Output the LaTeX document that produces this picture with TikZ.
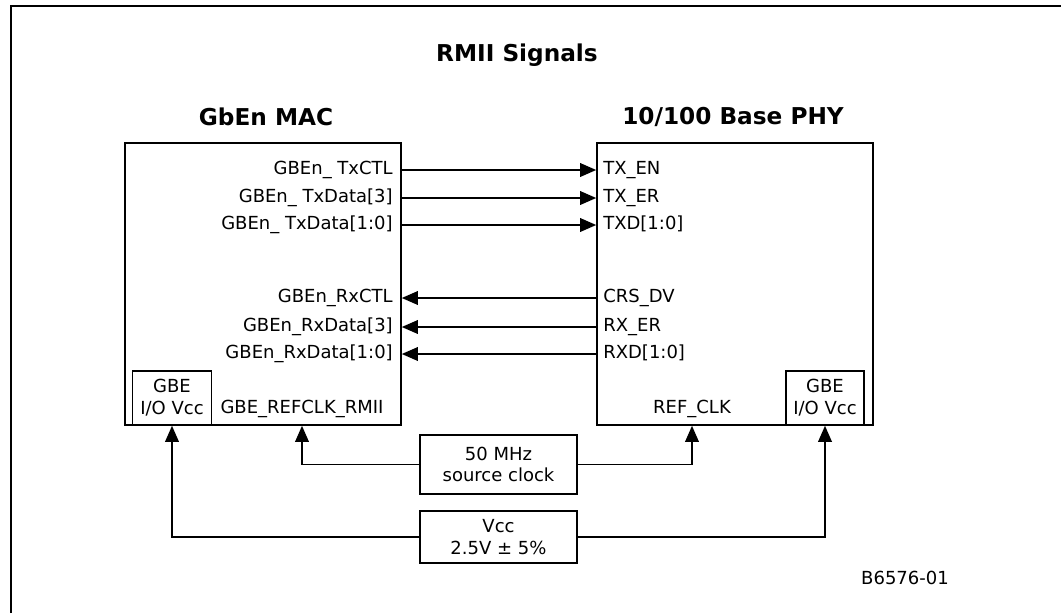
\documentclass[tikz,border=0pt]{standalone}
\usepackage{fontspec}
\setmainfont{DejaVu Sans}
\usetikzlibrary{arrows.meta}

\tikzset{
  blk/.style={draw, line width=1.1pt, inner sep=0pt},
  sig/.style={line width=1.1pt, -{Triangle[length=4mm,width=3.4mm]}},
  lbl/.style={font=\fontsize{12.8}{15.5}\selectfont, inner sep=0pt, text height=9pt, text depth=3pt},
  ttl/.style={font=\fontsize{16.5}{19}\selectfont\bfseries, inner sep=0pt},
}

\begin{document}
\begin{tikzpicture}[x=0.025cm, y=-0.025cm]

    \useasboundingbox (0,0) rectangle (1061,613);

    % frame
    \draw[line width=1.5pt] (11,613) -- (11,6) -- (1061,6);

    % titles
    \node[ttl] (title) at (517,55) {RMII Signals};
    \node[ttl] (mactitle) at (266,117) {GbEn MAC};
    \node[ttl] (phytitle) at (733,117) {10/100 Base PHY};

    % blocks
    \node[blk, minimum width=6.9cm, minimum height=7.05cm] (mac) at (263,284) {};
    \node[blk, minimum width=6.9cm, minimum height=7.05cm] (phy) at (735,284) {};
    \node[blk, lbl, text height=, text depth=, align=center, minimum width=1.975cm, minimum height=1.35cm] (macvcc) at (172,398) {GBE\\I/O Vcc};
    \node[blk, lbl, text height=, text depth=, align=center, minimum width=1.95cm, minimum height=1.35cm] (phyvcc) at (825,398) {GBE\\I/O Vcc};
    \node[blk, lbl, text height=, text depth=, align=center, minimum width=3.925cm, minimum height=1.475cm] (clk) at (498.5,464.5) {50 MHz\\source clock};
    \node[blk, lbl, text height=, text depth=, align=center, minimum width=3.925cm, minimum height=1.3cm] (vcc) at (498.5,537) {Vcc\\2.5V ± 5\%};

    % MAC pins
    \node[lbl, anchor=east] (mtx1) at (393,170) {GBEn\_ TxCTL};
    \node[lbl, anchor=east] (mtx2) at (393,198) {GBEn\_ TxData[3]};
    \node[lbl, anchor=east] (mtx3) at (393,225) {GBEn\_ TxData[1:0]};
    \node[lbl, anchor=east] (mrx1) at (393,298) {GBEn\_RxCTL};
    \node[lbl, anchor=east] (mrx2) at (393,327) {GBEn\_RxData[3]};
    \node[lbl, anchor=east] (mrx3) at (393,354) {GBEn\_RxData[1:0]};
    \node[lbl] (macclk) at (302,409) {GBE\_REFCLK\_RMII};

    % PHY pins
    \node[lbl, anchor=west] (ptx1) at (603,170) {TX\_EN};
    \node[lbl, anchor=west] (ptx2) at (603,198) {TX\_ER};
    \node[lbl, anchor=west] (ptx3) at (603,225) {TXD[1:0]};
    \node[lbl, anchor=west] (prx1) at (603,298) {CRS\_DV};
    \node[lbl, anchor=west] (prx2) at (603,327) {RX\_ER};
    \node[lbl, anchor=west] (prx3) at (603,354) {RXD[1:0]};
    \node[lbl] (phyclk) at (692,409) {REF\_CLK};

    % transmit
    \foreach \i in {1,2,3}
        \draw[sig] (mac.east |- mtx\i) -- (phy.west |- ptx\i);

    % receive
    \foreach \i in {1,2,3}
        \draw[sig] (phy.west |- prx\i) -- (mac.east |- mrx\i);

    % clock and supply
    \draw[sig] (clk.west) -| (macclk |- mac.south);
    \draw[sig] (clk.east) -| (phyclk |- phy.south);
    \draw[sig] (vcc.west) -| (macvcc.south);
    \draw[sig] (vcc.east) -| (phyvcc.south);

    \node[lbl, text height=, text depth=] (fig) at (905,578) {B6576-01};

\end{tikzpicture}
\end{document}
